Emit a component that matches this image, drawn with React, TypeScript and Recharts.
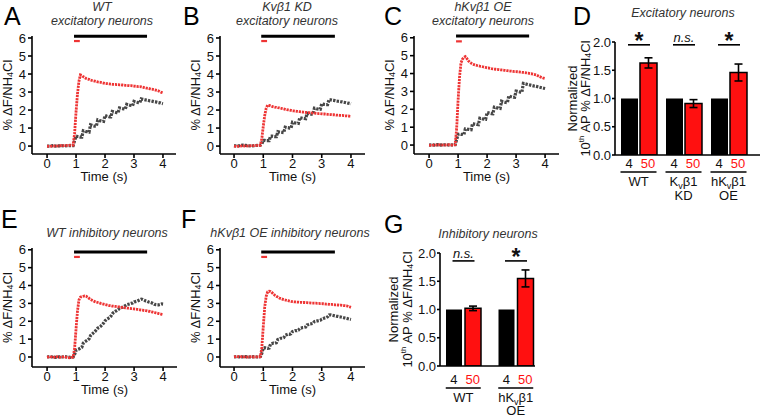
import React from 'react'
import { LineChart, Line, XAxis, YAxis, ReferenceLine, BarChart, Bar, ErrorBar, LabelList } from 'recharts'

const FONT = '"Liberation Sans", Arial, Helvetica, sans-serif'
const RED = '#ee3434'
const GRAY = '#474747'
const BAR_RED = '#ff1010'

// sample times (s): baseline every 0.1 s, then every 0.05 s
const TIME = [
  0, 0.1, 0.2, 0.3, 0.4, 0.5, 0.6, 0.7, 0.8, 0.9,
  0.95, 1.0, 1.05, 1.1, 1.15, 1.2, 1.25, 1.3, 1.35, 1.4, 1.45,
  1.5, 1.55, 1.6, 1.65, 1.7, 1.75, 1.8, 1.85, 1.9, 1.95,
  2.0, 2.05, 2.1, 2.15, 2.2, 2.25, 2.3, 2.35, 2.4, 2.45,
  2.5, 2.55, 2.6, 2.65, 2.7, 2.75, 2.8, 2.85, 2.9, 2.95,
  3.0, 3.05, 3.1, 3.15, 3.2, 3.25, 3.3, 3.35, 3.4, 3.45,
  3.5, 3.55, 3.6, 3.65, 3.7, 3.75, 3.8, 3.85, 3.9, 3.95,
  4.0,
]

// A: WT excitatory
const A_RED = [
  0.0, -0.02, 0.0, 0.01, 0.0, 0.03, 0.02, 0.04, 0.05, 0.05,
  0.7, 1.9, 2.9, 3.6, 3.95, 3.92, 3.85, 3.8, 3.75, 3.72, 3.7,
  3.66, 3.64, 3.62, 3.6, 3.58, 3.56, 3.55, 3.54, 3.52, 3.5,
  3.48, 3.47, 3.46, 3.45, 3.44, 3.43, 3.42, 3.42, 3.41, 3.41,
  3.4, 3.4, 3.39, 3.38, 3.37, 3.37, 3.36, 3.35, 3.35, 3.34,
  3.33, 3.32, 3.31, 3.3, 3.3, 3.29, 3.27, 3.25, 3.23, 3.21,
  3.2, 3.18, 3.16, 3.15, 3.13, 3.11, 3.09, 3.06, 3.02, 2.98,
  2.95,
]
const A_GRAY = [
  0.0, 0.0, 0.02, 0.0, 0.01, 0.02, 0.0, 0.02, 0.03, 0.03,
  0.3, 0.55, 0.53, 0.52, 0.5, 0.5, 0.85, 0.83, 0.8, 0.8, 0.78,
  1.18, 1.15, 1.12, 1.1, 1.1, 1.45, 1.42, 1.4, 1.38, 1.37,
  1.7, 1.67, 1.65, 1.62, 1.62, 1.92, 1.9, 1.88, 1.86, 1.85,
  2.12, 2.1, 2.08, 2.06, 2.05, 2.32, 2.29, 2.27, 2.25, 2.24,
  2.48, 2.45, 2.43, 2.41, 2.4, 2.62, 2.6, 2.58, 2.56, 2.55,
  2.53, 2.51, 2.5, 2.48, 2.46, 2.45, 2.43, 2.41, 2.4, 2.37,
  2.35,
]

// B: Kvβ1 KD excitatory
const B_RED = [
  0.0, -0.03, 0.0, 0.02, 0.0, 0.01, 0.03, 0.02, 0.04, 0.05,
  0.4, 1.1, 1.7, 2.1, 2.27, 2.26, 2.23, 2.2, 2.18, 2.16, 2.15,
  2.13, 2.12, 2.1, 2.08, 2.06, 2.04, 2.02, 2.01, 2.0, 1.98,
  1.96, 1.95, 1.94, 1.93, 1.92, 1.91, 1.9, 1.89, 1.88, 1.87,
  1.86, 1.86, 1.85, 1.84, 1.83, 1.83, 1.82, 1.81, 1.8, 1.8,
  1.79, 1.78, 1.78, 1.77, 1.76, 1.76, 1.75, 1.74, 1.74, 1.73,
  1.72, 1.72, 1.71, 1.7, 1.7, 1.69, 1.68, 1.68, 1.67, 1.66,
  1.65,
]
const B_GRAY = [
  0.02, 0.0, 0.03, 0.05, 0.04, 0.02, 0.0, 0.03, 0.04, 0.05,
  0.1, 0.32, 0.32, 0.3, 0.3, 0.3, 0.55, 0.55, 0.53, 0.52, 0.52,
  0.8, 0.78, 0.77, 0.76, 0.75, 1.05, 1.03, 1.02, 1.0, 1.0,
  1.32, 1.3, 1.28, 1.27, 1.26, 1.58, 1.56, 1.54, 1.53, 1.52,
  1.82, 1.8, 1.78, 1.77, 1.76, 2.1, 2.08, 2.06, 2.05, 2.04,
  2.35, 2.33, 2.31, 2.3, 2.3, 2.58, 2.57, 2.55, 2.54, 2.52,
  2.5, 2.49, 2.48, 2.46, 2.45, 2.43, 2.42, 2.4, 2.38, 2.37,
  2.35,
]

// C: hKvβ1 OE excitatory
const C_RED = [
  0.0, -0.02, 0.01, 0.0, 0.02, -0.01, 0.01, 0.02, 0.0, 0.03,
  0.9, 2.5, 3.8, 4.6, 4.8, 4.9, 4.95, 4.85, 4.72, 4.64, 4.58,
  4.53, 4.5, 4.47, 4.45, 4.43, 4.41, 4.4, 4.38, 4.36, 4.34,
  4.32, 4.31, 4.29, 4.27, 4.26, 4.25, 4.24, 4.23, 4.22, 4.21,
  4.2, 4.19, 4.18, 4.17, 4.16, 4.15, 4.14, 4.13, 4.12, 4.11,
  4.11, 4.1, 4.09, 4.08, 4.07, 4.06, 4.05, 4.04, 4.02, 4.01,
  3.99, 3.98, 3.96, 3.94, 3.92, 3.88, 3.84, 3.8, 3.77, 3.74,
  3.72,
]
const C_GRAY = [
  0.0, 0.01, 0.0, 0.02, 0.0, 0.01, 0.02, 0.0, 0.01, 0.02,
  0.3, 0.6, 0.62, 0.6, 0.6, 0.58, 0.9, 0.9, 0.88, 0.87, 0.86,
  1.2, 1.18, 1.17, 1.15, 1.14, 1.5, 1.48, 1.46, 1.45, 1.44,
  1.82, 1.8, 1.78, 1.76, 1.75, 2.12, 2.1, 2.08, 2.06, 2.05,
  2.45, 2.42, 2.4, 2.38, 2.37, 2.75, 2.72, 2.7, 2.68, 2.67,
  3.02, 3.0, 2.98, 2.96, 2.95, 3.45, 3.43, 3.41, 3.39, 3.37,
  3.35, 3.33, 3.31, 3.3, 3.28, 3.26, 3.24, 3.22, 3.2, 3.18,
  3.16,
]

// E: WT inhibitory
const E_RED = [
  -0.02, 0.03, -0.03, 0.02, 0.0, -0.02, 0.02, -0.03, -0.05, 0.0,
  0.5, 1.6, 2.6, 3.2, 3.35, 3.38, 3.4, 3.42, 3.4, 3.35, 3.28,
  3.22, 3.18, 3.14, 3.1, 3.07, 3.05, 3.03, 3.0, 2.98, 2.96,
  2.94, 2.92, 2.9, 2.88, 2.87, 2.85, 2.84, 2.83, 2.82, 2.81,
  2.8, 2.78, 2.77, 2.76, 2.75, 2.74, 2.73, 2.72, 2.71, 2.7,
  2.69, 2.68, 2.67, 2.66, 2.64, 2.63, 2.62, 2.6, 2.59, 2.58,
  2.56, 2.55, 2.53, 2.51, 2.49, 2.47, 2.45, 2.43, 2.41, 2.39,
  2.37,
]
const E_GRAY = [
  0.0, 0.02, 0.0, -0.02, 0.01, 0.0, 0.02, 0.0, -0.02, 0.0,
  0.15, 0.38, 0.42, 0.45, 0.5, 0.55, 0.78, 0.85, 0.9, 0.95, 1.02,
  1.2, 1.28, 1.35, 1.42, 1.52, 1.62, 1.66, 1.72, 1.8, 1.9,
  2.02, 2.1, 2.15, 2.2, 2.28, 2.42, 2.5, 2.55, 2.6, 2.65,
  2.72, 2.75, 2.78, 2.82, 2.88, 2.93, 2.95, 2.97, 3.0, 3.02,
  3.08, 3.1, 3.12, 3.16, 3.2, 3.24, 3.22, 3.18, 3.14, 3.12,
  3.08, 3.06, 3.03, 3.0, 2.95, 2.93, 2.92, 2.92, 2.94, 2.97,
  2.96,
]

// F: hKvβ1 OE inhibitory
const F_RED = [
  0.0, 0.03, 0.0, 0.02, -0.01, 0.0, 0.02, 0.0, 0.01, 0.02,
  0.5, 1.7, 2.8, 3.4, 3.65, 3.68, 3.66, 3.6, 3.52, 3.45, 3.4,
  3.35, 3.3, 3.27, 3.24, 3.21, 3.19, 3.17, 3.15, 3.13, 3.11,
  3.1, 3.09, 3.08, 3.07, 3.07, 3.06, 3.06, 3.05, 3.05, 3.04,
  3.04, 3.03, 3.03, 3.02, 3.02, 3.01, 3.01, 3.0, 3.0, 2.99,
  2.99, 2.98, 2.97, 2.96, 2.96, 2.95, 2.94, 2.94, 2.93, 2.92,
  2.92, 2.91, 2.9, 2.9, 2.89, 2.88, 2.87, 2.86, 2.84, 2.81,
  2.78,
]
const F_GRAY = [
  0.0, 0.02, 0.0, 0.01, 0.02, 0.0, 0.01, 0.02, 0.0, 0.02,
  0.2, 0.5, 0.52, 0.5, 0.48, 0.5, 0.72, 0.75, 0.78, 0.77, 0.8,
  0.98, 1.0, 1.05, 1.05, 1.08, 1.22, 1.25, 1.28, 1.27, 1.3,
  1.42, 1.45, 1.48, 1.47, 1.5, 1.6, 1.62, 1.65, 1.66, 1.68,
  1.8, 1.82, 1.85, 1.86, 1.88, 1.98, 2.0, 2.02, 2.03, 2.05,
  2.12, 2.15, 2.18, 2.2, 2.25, 2.35, 2.36, 2.34, 2.32, 2.3,
  2.28, 2.27, 2.25, 2.24, 2.22, 2.2, 2.18, 2.16, 2.14, 2.12,
  2.1,
]

const X_TICKS = [0, 1, 2, 3, 4]
const Y_TICKS = [0, 1, 2, 3, 4, 5, 6]
const STIM_4HZ = [0.93, 3.45]
const STIM_50HZ = [0.93, 1.13]

// bar panels
const FREQS = ['4', '50']
const EXC_GROUPS = ['WT', 'KD', 'OE']
const EXC_LABELS = [['WT'], ['K_vβ1', 'KD'], ['hK_vβ1', 'OE']]
const EXC_4HZ = [1, 1, 1]
const EXC_50HZ = [1.63, 0.91, 1.46]
const EXC_ERR = [0.09, 0.07, 0.15]
const EXC_SIG = ['*', 'n.s.', '*']

const INH_GROUPS = ['WT', 'OE']
const INH_LABELS = [['WT'], ['hK_vβ1', 'OE']]
const INH_4HZ = [1, 1]
const INH_50HZ = [1.02, 1.55]
const INH_ERR = [0.04, 0.15]
const INH_SIG = ['n.s.', '*']

const BAR_TICKS = [0, 0.5, 1, 1.5, 2]

function subV(s: string) {
  const parts = s.split('_v')
  if (parts.length < 2) return s
  return (
    <>
      {parts[0]}
      <tspan dy={3} fontSize={9}>v</tspan>
      <tspan dy={-3}>{parts[1]}</tspan>
    </>
  )
}

function TraceYLabel(props: any) {
  const vb = props.viewBox
  const cx = vb.x + 7
  const cy = vb.y + vb.height / 2
  return (
    <text x={cx} y={cy} transform={`rotate(-90 ${cx} ${cy})`} textAnchor="middle" dominantBaseline="central"
      fontSize={13} fill="#111" fontFamily={FONT}>
      % ΔF/NH<tspan dy={3} fontSize={9}>4</tspan><tspan dy={-3}>Cl</tspan>
    </text>
  )
}

function TracePanel(p: any) {
  const data = TIME.map((t, i) => ({ t, red: p.red[i], gray: p.gray[i] }))
  const ML = 32, MT = 36, MR = 4, XH = 32
  const axis = { stroke: '#000', strokeWidth: 1.6 }
  const tick = { fontSize: 13, fill: '#111', fontFamily: FONT }
  return (
    <div style={{ position: 'absolute', left: p.left - ML, top: p.top - MT }}>
      <LineChart width={ML + p.plotW + MR} height={MT + p.plotH + XH} data={data}
        margin={{ top: MT, right: MR, bottom: 0, left: 0 }}>
        <XAxis dataKey="t" type="number" domain={p.xDomain} ticks={X_TICKS} interval={0} allowDataOverflow height={XH}
          axisLine={axis} tickLine={axis} tickSize={4} tickMargin={1} tick={tick}
          label={{ value: 'Time (s)', position: 'insideBottom', offset: 5, fontSize: 13, fill: '#111', fontFamily: FONT }} />
        <YAxis type="number" domain={p.yDomain} ticks={Y_TICKS} interval={0} allowDataOverflow width={ML}
          axisLine={axis} tickLine={axis} tickSize={4} tickMargin={2} tick={tick} label={<TraceYLabel />} />
        <ReferenceLine segment={[{ x: STIM_4HZ[0], y: p.stimY }, { x: STIM_4HZ[1], y: p.stimY }]}
          stroke="#000" strokeWidth={3} ifOverflow="visible" />
        <ReferenceLine segment={[{ x: STIM_50HZ[0], y: p.dashY }, { x: STIM_50HZ[1], y: p.dashY }]}
          stroke={RED} strokeWidth={2.2} ifOverflow="visible" />
        <Line dataKey="gray" type="linear" stroke={GRAY} strokeWidth={3.2} strokeDasharray="2.4 1.2"
          dot={false} activeDot={false} isAnimationActive={false} />
        <Line dataKey="red" type="linear" stroke={RED} strokeWidth={2.8} strokeDasharray="2.2 0.9"
          dot={false} activeDot={false} isAnimationActive={false} />
      </LineChart>
    </div>
  )
}

function BarYLabel(props: any) {
  const vb = props.viewBox
  const cy = vb.y + vb.height / 2
  const x1 = vb.x + props.dx1
  const x2 = vb.x + props.dx2
  return (
    <g fontFamily={FONT} fontSize={13} fill="#111">
      <text x={x1} y={cy} transform={`rotate(-90 ${x1} ${cy})`} textAnchor="middle" dominantBaseline="central">Normalized</text>
      <text x={x2} y={cy} transform={`rotate(-90 ${x2} ${cy})`} textAnchor="middle" dominantBaseline="central">
        10<tspan dy={-4} fontSize={8}>th</tspan><tspan dy={4}> AP % ΔF/NH</tspan><tspan dy={3} fontSize={9}>4</tspan><tspan dy={-3}>Cl</tspan>
      </text>
    </g>
  )
}

function GroupTick(props: any) {
  const { x, y, payload, labels, barSize, gap, off } = props
  const idx = payload.index ?? 0
  const half = (barSize + gap) / 2
  return (
    <g fontFamily={FONT} fontSize={13}>
      <text x={x - half} y={y + off.num} textAnchor="middle" fill="#111">{FREQS[0]}</text>
      <text x={x + half} y={y + off.num} textAnchor="middle" fill={BAR_RED}>{FREQS[1]}</text>
      <line x1={x - barSize - gap / 2} x2={x + barSize + gap / 2} y1={y + off.rule} y2={y + off.rule} stroke="#000" strokeWidth={1.6} />
      {(labels[idx] || []).map((s: string, k: number) => (
        <text key={k} x={x} y={y + off.name + k * off.step} textAnchor="middle" fill="#111">{subV(s)}</text>
      ))}
    </g>
  )
}

function SigMark(props: any) {
  const vb = props.viewBox ?? props
  const { x, y, width, height } = vb
  const i = props.index ?? 0
  const perUnit = height / props.lowVals[i]
  const ly = y + height - props.sigY * perUnit
  const c1 = x + width / 2
  const c2 = c1 + width + props.gap
  const mid = (c1 + c2) / 2
  const value = props.sig[i]
  return (
    <g>
      <line x1={c1 - 1.5} x2={c2 + 1.5} y1={ly} y2={ly} stroke="#000" strokeWidth={1.6} />
      {value === '*' ? (
        <text x={mid} y={ly + 4} textAnchor="middle" fontSize={23} fontWeight="bold" fill="#111" fontFamily={FONT}>*</text>
      ) : (
        <text x={mid} y={ly - 3} textAnchor="middle" fontSize={13} fontStyle="italic" fill="#111" fontFamily={FONT}>{value}</text>
      )}
    </g>
  )
}

function BarPanel(p: any) {
  const data = p.groups.map((g: string, i: number) => ({ g, low: p.low[i], high: p.high[i], err: p.err[i], sig: p.sig[i] }))
  const axis = { stroke: '#000', strokeWidth: 1.6 }
  return (
    <div style={{ position: 'absolute', left: p.left, top: p.top }}>
      <BarChart width={p.width} height={p.height} data={data} barGap={p.gap} barSize={p.barSize}
        margin={{ top: p.mt, right: p.mr, bottom: 0, left: 0 }}>
        <XAxis dataKey="g" type="category" height={p.xh} padding={p.padding} interval={0}
          axisLine={axis} tickLine={false} tickSize={0} tickMargin={0}
          tick={(tp: any) => <GroupTick {...tp} labels={p.labels} barSize={p.barSize} gap={p.gap} off={p.off} />} />
        <YAxis type="number" domain={[0, 2]} ticks={BAR_TICKS} interval={0} allowDataOverflow width={p.yw}
          axisLine={axis} tickLine={axis} tickSize={3} tickMargin={1}
          tickFormatter={(v: number) => v.toFixed(1)}
          tick={{ fontSize: 13, fill: '#111', fontFamily: FONT }}
          label={<BarYLabel dx1={p.lx1} dx2={p.lx2} />} />
        <Bar dataKey="low" fill="#000" isAnimationActive={false}>
          <LabelList dataKey="sig"
            content={(lp: any) => <SigMark {...lp} lowVals={p.low} sig={p.sig} sigY={p.sigY} gap={p.gap} />} />
        </Bar>
        <Bar dataKey="high" fill={BAR_RED} stroke="#000" strokeWidth={1.5} isAnimationActive={false}>
          <ErrorBar dataKey="err" width={4} stroke="#000" strokeWidth={1.6} direction="y" />
        </Bar>
      </BarChart>
    </div>
  )
}

const TRACE_PANELS = [
  { id: 'A', left: 32, top: 36, plotW: 144, plotH: 118, xDomain: [-0.52, 4.45], yDomain: [-0.44, 6.11], red: A_RED, gray: A_GRAY, stimY: 6.1, dashY: 5.83 },
  { id: 'B', left: 220, top: 36, plotW: 145, plotH: 118, xDomain: [-0.48, 4.48], yDomain: [-0.44, 6.11], red: B_RED, gray: B_GRAY, stimY: 6.1, dashY: 5.83 },
  { id: 'C', left: 414, top: 36, plotW: 145, plotH: 118, xDomain: [-0.52, 4.48], yDomain: [-0.5, 6.1], red: C_RED, gray: C_GRAY, stimY: 6.1, dashY: 5.8 },
  { id: 'E', left: 32, top: 248, plotW: 145, plotH: 119, xDomain: [-0.52, 4.48], yDomain: [-0.56, 6.1], red: E_RED, gray: E_GRAY, stimY: 5.87, dashY: 5.6 },
  { id: 'F', left: 220, top: 248, plotW: 145, plotH: 119, xDomain: [-0.48, 4.48], yDomain: [-0.56, 6.1], red: F_RED, gray: F_GRAY, stimY: 5.87, dashY: 5.6 },
]

const LETTERS = [
  { t: 'A', x: 4, y: 4 }, { t: 'B', x: 183, y: 4 }, { t: 'C', x: 384, y: 4 }, { t: 'D', x: 573, y: 4 },
  { t: 'E', x: 1, y: 207 }, { t: 'F', x: 181, y: 207 }, { t: 'G', x: 384, y: 212 },
]

const TITLES = [
  { lines: ['WT', 'excitatory neurons'], x: 102, y: 0 },
  { lines: ['Kvβ1 KD', 'excitatory neurons'], x: 287, y: 0 },
  { lines: ['hKvβ1 OE', 'excitatory neurons'], x: 483, y: 0 },
  { lines: ['Excitatory neurons'], x: 683, y: 6 },
  { lines: ['WT inhibitory neurons'], x: 107, y: 226 },
  { lines: ['hKvβ1 OE inhibitory neurons'], x: 290, y: 226 },
  { lines: ['Inhibitory neurons'], x: 488, y: 227 },
]

export default function App() {
  return (
    <div style={{ position: 'absolute', left: 0, top: 0, width: 762, height: 418, background: '#fff', overflow: 'hidden', fontFamily: FONT }}>
      {TRACE_PANELS.map((tp) => <TracePanel key={tp.id} {...tp} />)}
      <BarPanel left={550} top={0} width={212} height={218} mt={42} mr={2} yw={65} xh={63}
        groups={EXC_GROUPS} labels={EXC_LABELS} low={EXC_4HZ} high={EXC_50HZ} err={EXC_ERR} sig={EXC_SIG}
        sigY={1.95} barSize={17} gap={2} padding={{ left: 1, right: 9 }} lx1={22} lx2={35}
        off={{ num: 12.5, rule: 17, name: 31, step: 14 }} />
      <BarPanel left={380} top={200} width={162} height={218} mt={53} mr={7} yw={60} xh={52}
        groups={INH_GROUPS} labels={INH_LABELS} low={INH_4HZ} high={INH_50HZ} err={INH_ERR} sig={INH_SIG}
        sigY={1.86} barSize={16} gap={3} padding={{ left: -3, right: -7 }} lx1={13} lx2={27}
        off={{ num: 18, rule: 22, name: 36, step: 13 }} />
      {LETTERS.map((l) => (
        <div key={l.t} style={{ position: 'absolute', left: l.x, top: l.y, fontSize: 25, lineHeight: '25px', color: '#000' }}>{l.t}</div>
      ))}
      {TITLES.map((t, i) => (
        <div key={i} style={{ position: 'absolute', left: t.x, top: t.y, transform: 'translateX(-50%)', whiteSpace: 'nowrap',
          textAlign: 'center', fontStyle: 'italic', fontSize: 12.5, lineHeight: '14px', color: '#333' }}>
          {t.lines.map((s, k) => <div key={k}>{s}</div>)}
        </div>
      ))}
    </div>
  )
}
